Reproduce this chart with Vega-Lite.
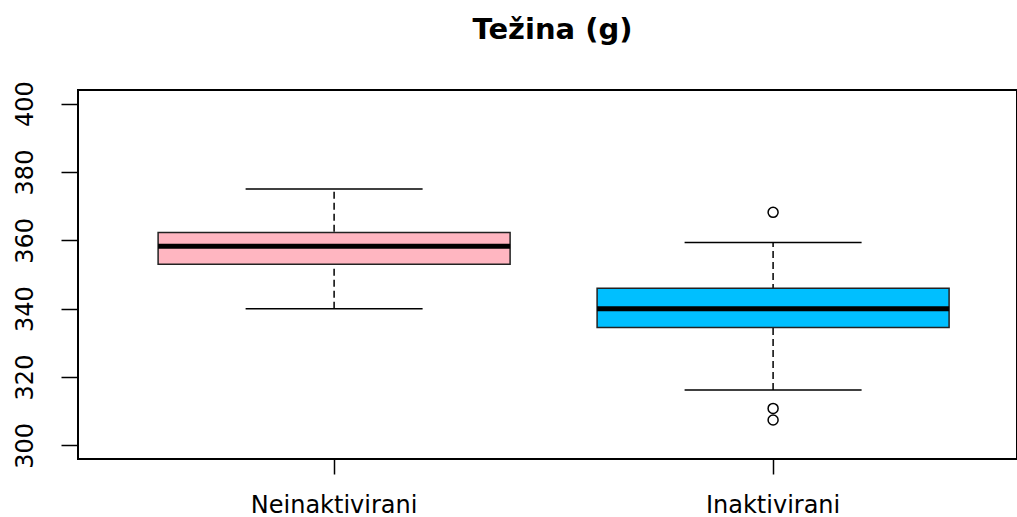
{
  "$schema": "https://vega.github.io/schema/vega-lite/v6.json",
  "width": 939,
  "height": 369,
  "autosize": {"type": "none"},
  "padding": {"left": 78, "top": 90, "right": 0, "bottom": 58},
  "background": "white",
  "title": {
    "text": "Težina (g)",
    "font": "DejaVu Sans",
    "fontSize": 29,
    "fontWeight": "bold",
    "color": "#000",
    "anchor": "middle",
    "frame": "group",
    "baseline": "alphabetic",
    "dx": 5,
    "offset": 13
  },
  "datasets": {
    "boxes": [
      {"grupa": "Neinaktivirani", "lower": 340, "q1": 353, "median": 358.3, "q3": 362.3, "upper": 375},
      {"grupa": "Inaktivirani", "lower": 316.2, "q1": 334.5, "median": 340, "q3": 346, "upper": 359.4}
    ],
    "outliers": [
      {"grupa": "Inaktivirani", "value": 368.2},
      {"grupa": "Inaktivirani", "value": 310.8},
      {"grupa": "Inaktivirani", "value": 307.4}
    ]
  },
  "encoding": {
    "x": {
      "field": "grupa",
      "type": "nominal",
      "sort": ["Neinaktivirani", "Inaktivirani"],
      "scale": {"domain": ["Neinaktivirani", "Inaktivirani"], "paddingInner": 0, "paddingOuter": 0.0695, "align": 0.6},
      "axis": {
        "title": null,
        "labelAngle": 0,
        "labelFont": "DejaVu Sans",
        "labelFontSize": 24,
        "labelColor": "#000",
        "domain": false,
        "ticks": true,
        "tickSize": 15,
        "tickColor": "#000",
        "tickWidth": 1.5,
        "labelPadding": 19,
        "labelBaseline": "top"
      }
    }
  },
  "layer": [
    {
      "data": {"name": "boxes"},
      "mark": {"type": "rule", "stroke": "#000", "strokeWidth": 1.5, "strokeDash": [7, 4], "opacity": 1},
      "encoding": {
        "y": {
          "field": "lower",
          "type": "quantitative",
          "scale": {"domain": [296, 404], "nice": false, "zero": false},
          "axis": {
            "title": null,
            "values": [300, 320, 340, 360, 380, 400],
            "labelAngle": -90,
            "labelAlign": "center",
            "labelBaseline": "middle",
            "labelFont": "DejaVu Sans",
            "labelFontSize": 24,
            "labelColor": "#000",
            "labelPadding": 36,
            "domain": false,
            "grid": false,
            "tickSize": 17,
            "tickColor": "#000",
            "tickWidth": 1.5
          }
        },
        "y2": {"field": "upper"}
      }
    },
    {
      "data": {"name": "boxes"},
      "mark": {"type": "tick", "orient": "horizontal", "size": 177, "thickness": 1.5, "color": "#000", "opacity": 1},
      "encoding": {"y": {"field": "lower", "type": "quantitative"}}
    },
    {
      "data": {"name": "boxes"},
      "mark": {"type": "tick", "orient": "horizontal", "size": 177, "thickness": 1.5, "color": "#000", "opacity": 1},
      "encoding": {"y": {"field": "upper", "type": "quantitative"}}
    },
    {
      "data": {"name": "boxes"},
      "mark": {"type": "bar", "size": 352, "stroke": "#222", "strokeWidth": 1.5, "opacity": 1},
      "encoding": {
        "y": {"field": "q1", "type": "quantitative"},
        "y2": {"field": "q3"},
        "color": {
          "field": "grupa",
          "type": "nominal",
          "scale": {"domain": ["Neinaktivirani", "Inaktivirani"], "range": ["#FFB6C1", "#00BFFF"]},
          "legend": null
        }
      }
    },
    {
      "data": {"name": "boxes"},
      "mark": {"type": "tick", "orient": "horizontal", "size": 352, "thickness": 5, "color": "#000", "opacity": 1},
      "encoding": {"y": {"field": "median", "type": "quantitative"}}
    },
    {
      "data": {"name": "outliers"},
      "mark": {"type": "point", "shape": "circle", "filled": false, "size": 100, "stroke": "#000", "strokeWidth": 1.5, "opacity": 1},
      "encoding": {"y": {"field": "value", "type": "quantitative"}}
    }
  ],
  "config": {
    "view": {"stroke": "#000", "strokeWidth": 2}
  }
}
